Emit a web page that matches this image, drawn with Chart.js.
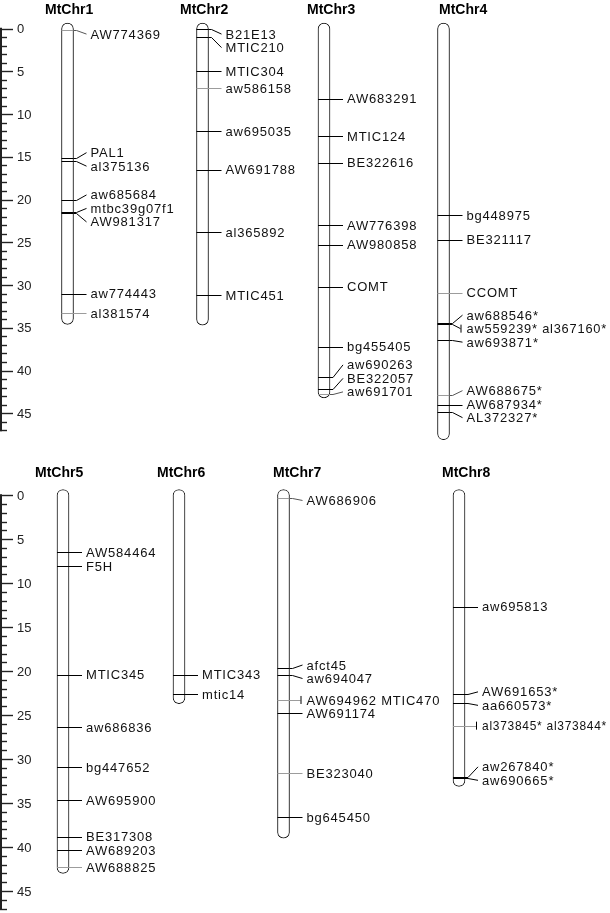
<!DOCTYPE html>
<html>
<head>
<meta charset="utf-8">
<script src="https://cdn.jsdelivr.net/npm/chart.js@4.4.1/dist/chart.umd.min.js"></script>
<style>
html, body { margin: 0; padding: 0; background: #fff; }
#wrap { position: relative; width: 610px; height: 913px; overflow: hidden; }
.panel { position: absolute; left: 0; width: 610px; }
</style>
</head>
<body>
<div id="wrap">
  <div class="panel" style="top:0;height:456px"><canvas id="topMap" width="610" height="456"></canvas></div>
  <div class="panel" style="top:456px;height:457px"><canvas id="bottomMap" width="610" height="457"></canvas></div>
</div>
<script>
// chromosomes and their lengths (cM)
const chromosomes = ["MtChr1", "MtChr2", "MtChr3", "MtChr4", "MtChr5", "MtChr6", "MtChr7", "MtChr8"];
const chrLength = [34.6, 34.7, 43.2, 48.1, 43.0, 23.7, 39.0, 33.1];

// markers per chromosome, name + position (cM)
const markerNames = [
  ["AW774369", "PAL1", "al375136", "aw685684", "mtbc39g07f1", "AW981317", "aw774443", "al381574"],
  ["B21E13", "MTIC210", "MTIC304", "aw586158", "aw695035", "AW691788", "al365892", "MTIC451"],
  ["AW683291", "MTIC124", "BE322616", "AW776398", "AW980858", "COMT", "bg455405", "aw690263", "BE322057", "aw691701"],
  ["bg448975", "BE321117", "CCOMT", "aw688546*", "aw559239*", "al367160*", "aw693871*", "AW688675*", "AW687934*", "AL372327*"],
  ["AW584464", "F5H", "MTIC345", "aw686836", "bg447652", "AW695900", "BE317308", "AW689203", "AW688825"],
  ["MTIC343", "mtic14"],
  ["AW686906", "afct45", "aw694047", "AW694962", "MTIC470", "AW691174", "BE323040", "bg645450"],
  ["aw695813", "AW691653*", "aa660573*", "al373845*", "al373844*", "aw267840*", "aw690665*"]
];
const markerPos = [
  [0.2, 15.1, 15.5, 20.1, 21.4, 21.6, 31.0, 33.3],
  [0.0, 1.0, 5.0, 7.0, 12.0, 16.5, 23.8, 31.2],
  [8.2, 12.6, 15.7, 23.0, 25.3, 30.2, 37.2, 40.7, 42.2, 42.7],
  [21.8, 24.7, 30.9, 34.4, 34.5, 34.5, 36.4, 42.9, 44.0, 44.9],
  [6.5, 8.1, 20.4, 26.4, 30.9, 34.7, 38.9, 40.3, 42.3],
  [20.4, 22.6],
  [0.3, 19.7, 20.45, 23.3, 23.3, 24.8, 31.6, 36.6],
  [12.7, 22.65, 23.6, 26.2, 26.2, 32.0, 32.2]
];
// markers drawn in grey in the original
const weakMarkers = ["AW774369", "al381574", "aw586158", "aw691701", "CCOMT", "AW688675*",
  "AW688825", "AW686906", "AW694962", "MTIC470", "BE323040", "al373845*", "al373844*"];

// ruler
const rulerMax = 47;
const rulerLabels = [0, 5, 10, 15, 20, 25, 30, 35, 40, 45];

const BAR = 12;     // chromosome width px
const CAP = 0.65;   // rounded end above 0
const FONT = "13px 'Liberation Sans', Arial, sans-serif";

function spreadLabels(groups, gap, lo, hi) {
  let blocks = groups.map(g => ({ items: [g] }));
  const start = b => {
    const n = b.items.length;
    const mean = b.items.reduce((s, g) => s + g.y, 0) / n;
    let s = mean - (n - 1) * gap / 2;
    s = Math.min(s, hi - (n - 1) * gap);
    return Math.max(s, lo);
  };
  let merged = true;
  while (merged) {
    merged = false;
    for (let i = 0; i < blocks.length - 1; i++) {
      const a = blocks[i], b = blocks[i + 1];
      if (start(a) + a.items.length * gap > start(b) + 0.01) {
        a.items = a.items.concat(b.items);
        blocks.splice(i + 1, 1);
        merged = true;
        break;
      }
    }
  }
  blocks.forEach(b => { const s = start(b); b.items.forEach((g, j) => g.ly = s + j * gap); });
}

const mapPlugin = {
  id: "geneticMap",
  afterDatasetsDraw(chart, args, opts) {
    const ctx = chart.ctx, xs = chart.scales.x, ys = chart.scales.y;
    ctx.save();

    // ruler on the left
    ctx.strokeStyle = "#222";
    ctx.lineWidth = 2;
    ctx.beginPath();
    ctx.moveTo(1, ys.getPixelForValue(0) - 1);
    ctx.lineTo(1, ys.getPixelForValue(rulerMax) + 1);
    ctx.stroke();
    ctx.lineWidth = 1.4;
    for (let v = 0; v <= rulerMax; v++) {
      const y = Math.round(ys.getPixelForValue(v)) + 0.5;
      ctx.beginPath();
      ctx.moveTo(0, y);
      ctx.lineTo(rulerLabels.includes(v) ? 13 : 7, y);
      ctx.stroke();
    }
    ctx.fillStyle = "#222";
    ctx.font = FONT;
    ctx.textBaseline = "middle";
    ctx.textAlign = "left";
    rulerLabels.forEach(v => ctx.fillText(String(v), 17, ys.getPixelForValue(v) + 1));

    opts.chroms.forEach((ci, j) => {
      // title
      ctx.letterSpacing = "0px";
      ctx.fillStyle = "#000";
      ctx.font = "bold 14px 'Liberation Sans', Arial, sans-serif";
      ctx.fillText(chromosomes[ci], opts.titleX[j], opts.titleY);

      const cx = xs.getPixelForValue(opts.colX[j]);
      const left = cx - BAR / 2, right = cx + BAR / 2;
      const labelX = right + 17;

      // markers at the same position share one label
      const groups = [];
      markerNames[ci].forEach((name, k) => {
        const pos = markerPos[ci][k];
        const last = groups[groups.length - 1];
        if (last && last.pos === pos) last.names.push(name);
        else groups.push({ pos: pos, names: [name], y: ys.getPixelForValue(pos) });
      });
      spreadLabels(groups, 13.5, ys.getPixelForValue(-CAP) + 11, ys.getPixelForValue(chrLength[ci]) - 6);

      ctx.font = FONT;
      ctx.letterSpacing = "0.8px";
      ctx.lineWidth = 1;
      groups.forEach(g => {
        const weak = g.names.some(n => weakMarkers.includes(n));
        const y = Math.round(g.y) + 0.5;
        const multi = g.names.length > 1;
        const endX = labelX - (multi ? 6 : 4);
        ctx.strokeStyle = weak ? "#9c9c9c" : "#000";
        ctx.beginPath();
        ctx.moveTo(left, y);
        if (Math.abs(g.ly - g.y) < 1.5) {
          ctx.lineTo(endX, y);
          ctx.stroke();
        } else {
          ctx.lineTo(right, y);
          ctx.stroke();
          ctx.strokeStyle = weak ? "#555" : "#000";
          ctx.beginPath();
          ctx.moveTo(right, y);
          ctx.lineTo(right + 3, y);
          ctx.lineTo(endX, g.ly);
          ctx.stroke();
        }
        if (multi) {
          ctx.strokeStyle = "#000";
          ctx.beginPath();
          ctx.moveTo(endX + 0.5, g.ly - 4);
          ctx.lineTo(endX + 0.5, g.ly + 4);
          ctx.stroke();
        }
        ctx.fillStyle = "#111";
        // squeeze a long label so it stays inside the page
        ctx.fillText(g.names.join(" "), labelX, g.ly + 1, chart.width - labelX - 3);
      });
    });
    ctx.restore();
  }
};

function buildMap(canvasId, chroms, colX, titleX, titleY, yMin, yMax, padTop) {
  const ctx = document.getElementById(canvasId).getContext("2d");
  return new Chart(ctx, {
    type: "bar",
    data: {
      datasets: [{
        data: chroms.map((ci, j) => ({ x: colX[j], y: [-CAP, chrLength[ci]] })),
        backgroundColor: "#fff",
        borderColor: "#111",
        borderWidth: 1,
        borderSkipped: false,
        borderRadius: { topLeft: 6, topRight: 6, bottomLeft: 6, bottomRight: 6 },
        barThickness: BAR
      }]
    },
    options: {
      responsive: false,
      animation: false,
      events: [],
      layout: { padding: { top: padTop, bottom: 0, left: 0, right: 0 } },
      scales: {
        x: { type: "linear", min: 0, max: 610, offset: false, display: false },
        y: { type: "linear", reverse: true, min: yMin, max: yMax, display: false }
      },
      plugins: {
        legend: { display: false },
        tooltip: { enabled: false },
        geneticMap: { chroms: chroms, colX: colX, titleX: titleX, titleY: titleY }
      }
    },
    plugins: [mapPlugin]
  });
}

buildMap("topMap", [0, 1, 2, 3], [67.5, 202.5, 324, 443.5], [45, 180, 307, 439], 10, -3, 50, 3);
buildMap("bottomMap", [4, 5, 6, 7], [63, 179, 283.5, 459], [35, 157, 273, 442], 17, -4, 47.5, 4);
</script>
</body>
</html>
